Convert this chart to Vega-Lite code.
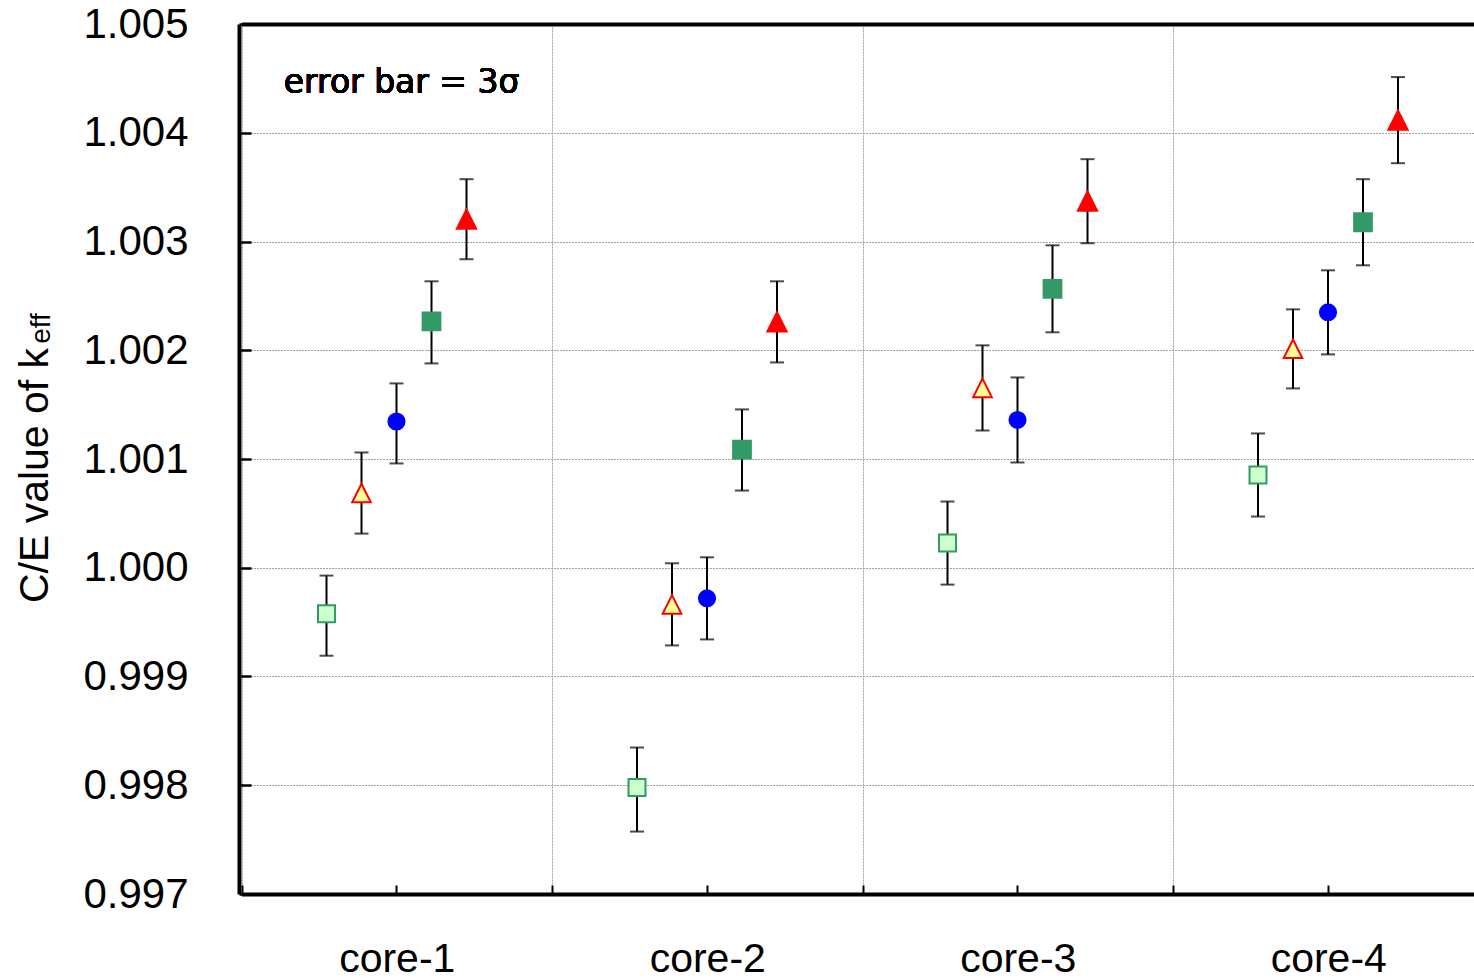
{
  "$schema": "https://vega.github.io/schema/vega-lite/v6.json",
  "width": 1235,
  "height": 870,
  "autosize": {"type": "none"},
  "padding": {"left": 239, "top": 24, "right": 0, "bottom": 85},
  "background": "white",
  "config": {
    "view": {"stroke": null},
    "font": "Liberation Sans",
    "axis": {"labelFont": "Liberation Sans", "titleFont": "Liberation Sans", "titleFontWeight": "normal", "labelColor": "black", "titleColor": "black"}
  },
  "data": {
    "values": [
      {"core": "core-1", "series": "series 1", "value": 0.999578, "lo": 0.999191, "hi": 0.999928},
      {"core": "core-1", "series": "series 2", "value": 1.000687, "lo": 1.000314, "hi": 1.001060},
      {"core": "core-1", "series": "series 3", "value": 1.001345, "lo": 1.000959, "hi": 1.001695},
      {"core": "core-1", "series": "series 4", "value": 1.002266, "lo": 1.001879, "hi": 1.002634},
      {"core": "core-1", "series": "series 5", "value": 1.003205, "lo": 1.002837, "hi": 1.003573},
      {"core": "core-2", "series": "series 1", "value": 0.997979, "lo": 0.997574, "hi": 0.998347},
      {"core": "core-2", "series": "series 2", "value": 0.999663, "lo": 0.999286, "hi": 1.000041},
      {"core": "core-2", "series": "series 3", "value": 0.999719, "lo": 0.999341, "hi": 1.000096},
      {"core": "core-2", "series": "series 4", "value": 1.001087, "lo": 1.000710, "hi": 1.001456},
      {"core": "core-2", "series": "series 5", "value": 1.002261, "lo": 1.001888, "hi": 1.002634},
      {"core": "core-3", "series": "series 1", "value": 1.000227, "lo": 0.999845, "hi": 1.000609},
      {"core": "core-3", "series": "series 2", "value": 1.001654, "lo": 1.001262, "hi": 1.002045},
      {"core": "core-3", "series": "series 3", "value": 1.001359, "lo": 1.000968, "hi": 1.001750},
      {"core": "core-3", "series": "series 4", "value": 1.002565, "lo": 1.002165, "hi": 1.002965},
      {"core": "core-3", "series": "series 5", "value": 1.003371, "lo": 1.002984, "hi": 1.003757},
      {"core": "core-4", "series": "series 1", "value": 1.000853, "lo": 1.000471, "hi": 1.001235},
      {"core": "core-4", "series": "series 2", "value": 1.002013, "lo": 1.001649, "hi": 1.002376},
      {"core": "core-4", "series": "series 3", "value": 1.002349, "lo": 1.001962, "hi": 1.002735},
      {"core": "core-4", "series": "series 4", "value": 1.003177, "lo": 1.002781, "hi": 1.003573},
      {"core": "core-4", "series": "series 5", "value": 1.004116, "lo": 1.003720, "hi": 1.004512}
    ]
  },
  "layer": [
    {
      "mark": {"type": "rule", "color": "black", "strokeWidth": 2},
      "encoding": {
        "x": {
          "field": "core", "type": "nominal",
          "scale": {"range": [2.5, 1244.5], "paddingInner": 0, "paddingOuter": 0},
          "axis": {
            "orient": "bottom", "title": null, "tickBand": "extent",
            "grid": true, "gridColor": "#a0a0a0", "gridDash": [2, 1], "gridWidth": 1,
            "domainColor": "black", "domainWidth": 4,
            "tickColor": "black", "tickWidth": 2, "tickSize": -9,
            "labelPadding": 54, "labelFontSize": 41, "labelAngle": 0, "labelDx": -4
          }
        },
        "xOffset": {"field": "series", "type": "nominal", "scale": {"type": "point", "range": [85, 225], "padding": 0}},
        "y": {
          "field": "lo", "type": "quantitative",
          "scale": {"domain": [0.997, 1.005], "zero": false, "nice": false},
          "axis": {
            "orient": "left",
            "values": [0.997, 0.998, 0.999, 1.0, 1.001, 1.002, 1.003, 1.004, 1.005],
            "format": ".3f",
            "title": "C/E value of k", "titleFontSize": 41,
            "titleX": -192, "titleY": 451, "titleBaseline": "alphabetic", "titleAngle": -90, "titleAlign": "center",
            "grid": true, "gridColor": "#a0a0a0", "gridDash": [2, 1], "gridWidth": 1,
            "domainColor": "black", "domainWidth": 4,
            "tickColor": "black", "tickWidth": 2.5, "tickSize": -12,
            "labelPadding": 63, "labelFontSize": 42
          }
        },
        "y2": {"field": "hi"}
      }
    },
    {
      "transform": [{"fold": ["lo", "hi"], "as": ["end", "yv"]}],
      "mark": {"type": "tick", "color": "black", "thickness": 2, "size": 14, "orient": "horizontal"},
      "encoding": {
        "x": {
          "field": "core", "type": "nominal",
          "axis": {"orient": "top", "title": null, "labels": false, "ticks": false, "grid": false, "domain": true, "domainColor": "black", "domainWidth": 4}
        },
        "xOffset": {"field": "series", "type": "nominal"},
        "y": {
          "field": "yv", "type": "quantitative",
          "axis": {
            "orient": "left", "title": "eff", "titleFontSize": 28,
            "titleX": -190, "titleY": 304, "titleBaseline": "alphabetic", "titleAngle": -90, "titleAlign": "center",
            "labels": false, "ticks": false, "grid": false, "domain": false
          }
        }
      }
    },
    {
      "mark": {"type": "point", "filled": true, "opacity": 1, "strokeWidth": 2},
      "encoding": {
        "x": {
          "field": "core", "type": "nominal",
          "axis": {"orient": "bottom", "title": null, "labels": false, "domain": false, "grid": false, "tickSize": -9, "tickColor": "black", "tickWidth": 2}
        },
        "xOffset": {"field": "series", "type": "nominal"},
        "y": {"field": "value", "type": "quantitative", "axis": null},
        "shape": {
          "field": "series", "type": "nominal", "legend": null,
          "scale": {"domain": ["series 1", "series 2", "series 3", "series 4", "series 5"], "range": ["square", "M0,-1L1,1L-1,1Z", "circle", "square", "M0,-1L1,1L-1,1Z"]}
        },
        "fill": {
          "field": "series", "type": "nominal", "legend": null,
          "scale": {"domain": ["series 1", "series 2", "series 3", "series 4", "series 5"], "range": ["#ccffcc", "#ffff99", "#0000ff", "#339966", "#ff0000"]}
        },
        "stroke": {
          "field": "series", "type": "nominal", "legend": null,
          "scale": {"domain": ["series 1", "series 2", "series 3", "series 4", "series 5"], "range": ["#339966", "#ff0000", "#0000ff", "#339966", "#ff0000"]}
        },
        "size": {
          "field": "series", "type": "ordinal", "legend": null,
          "scale": {"domain": ["series 3", "series 1", "series 4", "series 2", "series 5"], "range": [260, 372]}
        }
      }
    },
    {
      "mark": {"type": "text", "text": "error bar = 3σ", "font": "DejaVu Sans", "fontSize": 33, "align": "left", "baseline": "alphabetic", "dx": -113, "color": "black"},
      "encoding": {
        "x": {"datum": "core-1", "type": "nominal", "axis": null},
        "y": {"datum": 1.00437, "type": "quantitative", "axis": null}
      }
    }
  ],
  "resolve": {"axis": {"x": "independent", "y": "independent"}}
}
